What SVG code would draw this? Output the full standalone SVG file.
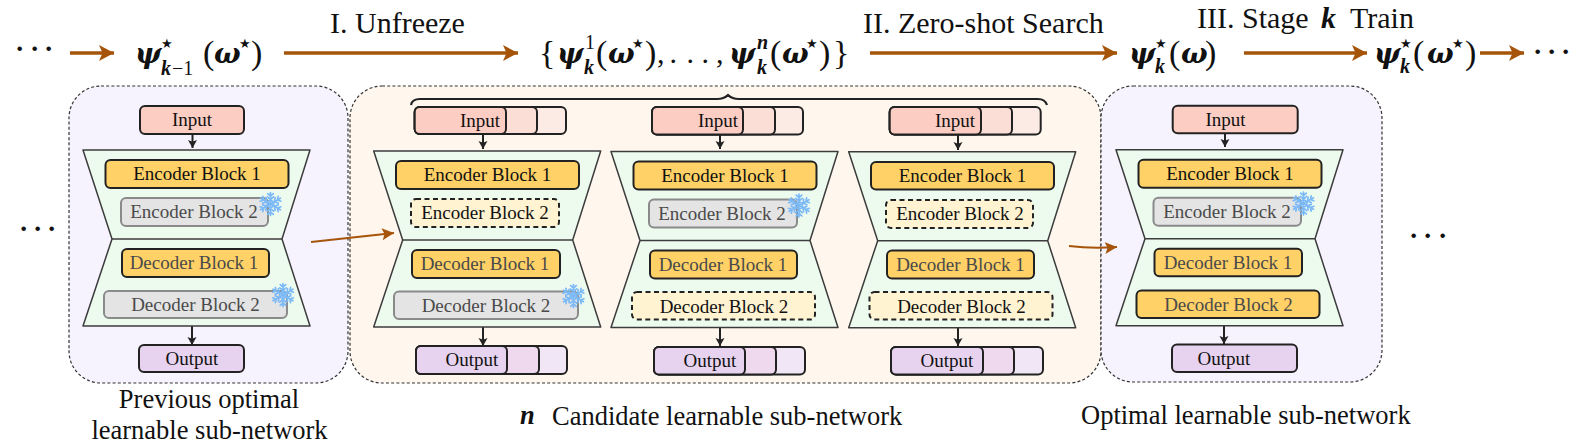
<svg xmlns="http://www.w3.org/2000/svg" width="1578" height="446" viewBox="0 0 1578 446">
<style>
text{font-family:"Liberation Serif","Times New Roman",serif;fill:#111}
.blk{font-size:19px;text-anchor:middle}
.dim{fill:#4a4a4a}
.cap{font-size:30px}
.lab{font-size:26.5px}
.m{font-family:"DejaVu Serif",serif;font-size:28px;font-weight:bold;font-style:italic}
.kb{font-size:30px;font-weight:bold;font-style:italic}
.r{font-size:34px}
.s{font-size:20px;font-weight:bold;font-style:italic}
.sr{font-size:20px}
.st{font-family:"DejaVu Sans",sans-serif;font-size:13px;fill:#111}
.dots{font-size:28px;font-weight:bold}
.panel{stroke:#333;stroke-width:1.2;stroke-dasharray:3 2.200}
.trap{fill:#edfbef;stroke:#3c3c3c;stroke-width:1.5;stroke-linejoin:round}
.box{stroke:#222;stroke-width:2}
.act{fill:#ffd166}
.frz{fill:#e4e4e4;stroke:#8a8a8a}
.cand{fill:#fff3d2;stroke-dasharray:5 3.5}
.in1{fill:#fccdc3}.in2{fill:#fbdfd6}.in3{fill:#fcebe4}
.ou1{fill:#e7d3ef}.ou2{fill:#efd9ef}.ou3{fill:#f1e6f5}
.flow{fill:none;stroke:#a65409;stroke-width:3.6;marker-end:url(#brown)}
.side{fill:none;stroke:#a65409;stroke-width:2;marker-end:url(#brownS)}
.link{fill:none;stroke:#222;stroke-width:2;marker-end:url(#black)}
.flk{stroke:#7bb9f7;stroke-width:1.7;fill:none;stroke-linecap:round}
</style>
<defs>
<marker id="brown" markerUnits="userSpaceOnUse" markerWidth="20" markerHeight="20" refX="15" refY="8" orient="auto"><path d="M0 0L15 8L0 16L3.5 8Z" fill="#a65409"/></marker>
<marker id="brownS" markerUnits="userSpaceOnUse" markerWidth="20" markerHeight="16" refX="12" refY="6" orient="auto"><path d="M0 0L12 6L0 12L2.5 6Z" fill="#a65409"/></marker>
<marker id="black" markerUnits="userSpaceOnUse" markerWidth="12" markerHeight="12" refX="8" refY="4.5" orient="auto"><path d="M0 0L8 4.5L0 9L1.8 4.5Z" fill="#222"/></marker>
<g id="arm"><path d="M0 0V-11.5M0 -4.5L-3.2 -7.2M0 -4.5L3.2 -7.2M0 -8L-2.8 -10.4M0 -8L2.8 -10.4"/></g>
<g id="flake" class="flk">
<use href="#arm"/><use href="#arm" transform="rotate(60)"/><use href="#arm" transform="rotate(120)"/><use href="#arm" transform="rotate(180)"/><use href="#arm" transform="rotate(240)"/><use href="#arm" transform="rotate(300)"/>
<circle r="3.4"/>
</g>
<path id="hour" d="M83 150H310L282 239L310 326H83L112 239Z"/>
</defs>

<!-- background panels -->
<g id="panel-previous"><rect class="panel" x="69" y="86" width="279" height="297" rx="32" fill="#f6f3ff"/></g>
<g id="panel-candidates"><rect class="panel" x="350" y="86" width="751" height="297" rx="32" fill="#fff6ee"/></g>
<g id="panel-optimal"><rect class="panel" x="1101" y="86" width="281" height="296" rx="32" fill="#f6f3ff"/></g>

<!-- top row -->
<g id="row-labels">
<text class="cap" x="330" y="33">I. Unfreeze</text>
<text class="cap" x="863" y="33">II. Zero-shot Search</text>
<text class="cap" x="1197" y="28">III. Stage</text>
<text class="kb" x="1321" y="28">k</text>
<text class="cap" x="1350" y="28">Train</text>
</g>
<g id="term-prev">
<text class="m" x="135" y="63">ψ</text><text class="st" x="161" y="48">★</text><text class="s" x="161" y="75">k</text><text class="sr" x="172" y="75">−1</text>
<text class="r" x="203" y="64">(</text><text class="m" x="214" y="63">ω</text><text class="st" x="239" y="48">★</text><text class="r" x="251" y="64">)</text>
</g>
<g id="term-set">
<text class="r" x="539" y="64">{</text>
<text class="m" x="557" y="63">ψ</text><text class="sr" x="585" y="49">1</text><text class="s" x="584" y="74">k</text>
<text class="r" x="596" y="64">(</text><text class="m" x="608" y="63">ω</text><text class="st" x="632" y="48">★</text><text class="r" x="645" y="64">)</text>
<text class="cap" x="657 669.500 686.500 701.500 716" y="63">,...,</text>
<text class="m" x="729" y="63">ψ</text><text class="s" x="757" y="49">n</text><text class="s" x="757" y="74">k</text>
<text class="r" x="770" y="64">(</text><text class="m" x="782" y="63">ω</text><text class="st" x="806" y="48">★</text><text class="r" x="819" y="64">)</text>
<text class="r" x="833" y="64">}</text>
</g>
<g id="term-current">
<text class="m" x="1129" y="63">ψ</text><text class="st" x="1155" y="48">★</text><text class="s" x="1155" y="73">k</text>
<text class="r" x="1169" y="64">(</text><text class="m" x="1181" y="63">ω</text><text class="r" x="1205" y="64">)</text>
</g>
<g id="term-next">
<text class="m" x="1374" y="63">ψ</text><text class="st" x="1400" y="48">★</text><text class="s" x="1400" y="73">k</text>
<text class="r" x="1413" y="64">(</text><text class="m" x="1427" y="63">ω</text><text class="st" x="1452" y="48">★</text><text class="r" x="1465" y="64">)</text>
</g>
<g id="ellipses">
<text class="dots" x="15 30 44" y="58">···</text>
<text class="dots" x="19 33 47" y="238">···</text>
<text class="dots" x="1409 1423 1438" y="244.500">···</text>
<text class="dots" x="1533 1547 1561" y="61">···</text>
</g>

<!-- connectors -->
<g id="connectors">
<path class="flow" d="M70 53H114"/>
<path class="flow" d="M284 53H518"/>
<path class="flow" d="M870 53H1117"/>
<path class="flow" d="M1244 53H1367"/>
<path class="flow" d="M1480 53H1524"/>
<path class="side" d="M311 242L394 233"/>
<path class="side" d="M1069 246Q1092 249 1117 247"/>
<path class="link" d="M192.500 134V148"/>
<path class="link" d="M192 326V345"/>
<path class="link" d="M483 134V149"/>
<path class="link" d="M483 327V346"/>
<path class="link" d="M720 135V149"/>
<path class="link" d="M720 328V346"/>
<path class="link" d="M958 135V150"/>
<path class="link" d="M958 328V346"/>
<path class="link" d="M1225 133V147"/>
<path class="link" d="M1224 326V344"/>
<path d="M411 105Q412 99 420 99H717Q724 99 728 95Q732 99 739 99H1038Q1045 99 1047 105" fill="none" stroke="#222" stroke-width="2.200"/>
</g>

<!-- previous optimal network -->
<g id="prev-net">
<use href="#hour" class="trap"/><path d="M112 239H282" stroke="#3c3c3c" stroke-width="1.500"/>
<g id="prev-input"><rect class="box in1" x="140" y="106" width="104" height="28" rx="5"/><text class="blk" x="192" y="126">Input</text></g>
<g id="prev-enc1"><rect class="box act" x="105.500" y="160" width="183" height="28" rx="5"/><text class="blk" x="197" y="180">Encoder Block 1</text></g>
<g id="prev-enc2"><rect class="box frz" x="121" y="198" width="147" height="28" rx="5"/><text class="blk dim" x="194" y="218">Encoder Block 2</text><use href="#flake" x="270.500" y="204"/></g>
<g id="prev-dec1"><rect class="box act" x="122" y="249" width="147" height="28" rx="5"/><text class="blk dim" x="194" y="269">Decoder Block 1</text></g>
<g id="prev-dec2"><rect class="box frz" x="104" y="291" width="183" height="27" rx="5"/><text class="blk dim" x="195.500" y="311">Decoder Block 2</text><use href="#flake" x="283" y="295"/></g>
<g id="prev-output"><rect class="box ou1" x="139" y="345" width="105" height="27" rx="5"/><text class="blk" x="192" y="365">Output</text></g>
</g>

<!-- candidate A -->
<g id="cand-a">
<use href="#hour" class="trap" x="290.700" y="1"/><path d="M402.700 240H572.700" stroke="#3c3c3c" stroke-width="1.500"/>
<g id="a-input"><rect class="box in3" x="414.700" y="107" width="151.300" height="27" rx="5"/><rect class="box in2" x="414.700" y="107" width="122.300" height="27" rx="5"/><rect class="box in1" x="414.700" y="107" width="91.300" height="27" rx="5"/><text class="blk" x="480" y="127">Input</text></g>
<g id="a-enc1"><rect class="box act" x="396" y="161" width="183" height="28" rx="5"/><text class="blk" x="487.500" y="181">Encoder Block 1</text></g>
<g id="a-enc2"><rect class="box cand" x="411" y="199" width="148" height="28" rx="5"/><text class="blk" x="485" y="219">Encoder Block 2</text></g>
<g id="a-dec1"><rect class="box act" x="412" y="250" width="148" height="28" rx="5"/><text class="blk dim" x="485" y="270">Decoder Block 1</text></g>
<g id="a-dec2"><rect class="box frz" x="394" y="291.500" width="184" height="27.500" rx="5"/><text class="blk dim" x="486" y="312">Decoder Block 2</text><use href="#flake" x="573.500" y="296"/></g>
<g id="a-output"><rect class="box ou3" x="416" y="346" width="151" height="28" rx="5"/><rect class="box ou2" x="416" y="346" width="123" height="28" rx="5"/><rect class="box ou1" x="416" y="346" width="91" height="28" rx="5"/><text class="blk" x="472" y="366">Output</text></g>
</g>

<!-- candidate B -->
<g id="cand-b">
<use href="#hour" class="trap" x="528" y="1.500"/><path d="M640 240.500H810" stroke="#3c3c3c" stroke-width="1.500"/>
<g id="b-input"><rect class="box in3" x="652" y="107" width="151" height="27.500" rx="5"/><rect class="box in2" x="652" y="107" width="123" height="27.500" rx="5"/><rect class="box in1" x="652" y="107" width="91" height="27.500" rx="5"/><text class="blk" x="718" y="127">Input</text></g>
<g id="b-enc1"><rect class="box act" x="633.500" y="161.500" width="183" height="28" rx="5"/><text class="blk" x="725" y="181.500">Encoder Block 1</text></g>
<g id="b-enc2"><rect class="box frz" x="649" y="199.500" width="148" height="28" rx="5"/><text class="blk dim" x="722" y="219.500">Encoder Block 2</text><use href="#flake" x="799" y="205.500"/></g>
<g id="b-dec1"><rect class="box act" x="650" y="250.500" width="147" height="28" rx="5"/><text class="blk dim" x="723" y="270.500">Decoder Block 1</text></g>
<g id="b-dec2"><rect class="box cand" x="632" y="292" width="183" height="27.500" rx="5"/><text class="blk" x="724" y="312.500">Decoder Block 2</text></g>
<g id="b-output"><rect class="box ou3" x="654" y="347" width="151" height="27.500" rx="5"/><rect class="box ou2" x="654" y="347" width="122" height="27.500" rx="5"/><rect class="box ou1" x="654" y="347" width="91" height="27.500" rx="5"/><text class="blk" x="710" y="367">Output</text></g>
</g>

<!-- candidate C -->
<g id="cand-c">
<use href="#hour" class="trap" x="765.700" y="1.700"/><path d="M877.700 240.700H1047.700" stroke="#3c3c3c" stroke-width="1.500"/>
<g id="c-input"><rect class="box in3" x="889.700" y="107" width="151" height="27.500" rx="5"/><rect class="box in2" x="889.700" y="107" width="122.300" height="27.500" rx="5"/><rect class="box in1" x="889.700" y="107" width="91.300" height="27.500" rx="5"/><text class="blk" x="955" y="127">Input</text></g>
<g id="c-enc1"><rect class="box act" x="871" y="162" width="183" height="27.500" rx="5"/><text class="blk" x="962.500" y="182">Encoder Block 1</text></g>
<g id="c-enc2"><rect class="box cand" x="886" y="200" width="147" height="28" rx="5"/><text class="blk" x="960" y="220">Encoder Block 2</text></g>
<g id="c-dec1"><rect class="box act" x="887" y="250.500" width="147" height="28" rx="5"/><text class="blk dim" x="960.500" y="270.500">Decoder Block 1</text></g>
<g id="c-dec2"><rect class="box cand" x="869.500" y="292" width="183" height="27.500" rx="5"/><text class="blk" x="961.500" y="312.500">Decoder Block 2</text></g>
<g id="c-output"><rect class="box ou3" x="891" y="347" width="152" height="27.500" rx="5"/><rect class="box ou2" x="891" y="347" width="123" height="27.500" rx="5"/><rect class="box ou1" x="891" y="347" width="92" height="27.500" rx="5"/><text class="blk" x="947" y="367">Output</text></g>
</g>

<!-- current optimal network -->
<g id="opt-net">
<use href="#hour" class="trap" x="1033" y="-0.300"/><path d="M1145 238.700H1315" stroke="#3c3c3c" stroke-width="1.500"/>
<g id="opt-input"><rect class="box in1" x="1172.700" y="105.700" width="125" height="27.500" rx="5"/><text class="blk" x="1225.500" y="125.500">Input</text></g>
<g id="opt-enc1"><rect class="box act" x="1138.500" y="159.700" width="183" height="28" rx="5"/><text class="blk" x="1230" y="179.700">Encoder Block 1</text></g>
<g id="opt-enc2"><rect class="box frz" x="1153.500" y="197.700" width="147.500" height="28" rx="5"/><text class="blk dim" x="1227" y="217.700">Encoder Block 2</text><use href="#flake" x="1303.500" y="203.500"/></g>
<g id="opt-dec1"><rect class="box act" x="1154.500" y="248.700" width="147.500" height="27.500" rx="5"/><text class="blk dim" x="1228" y="269">Decoder Block 1</text></g>
<g id="opt-dec2"><rect class="box act" x="1136.500" y="290.500" width="183" height="27.500" rx="5"/><text class="blk dim" x="1228.500" y="311">Decoder Block 2</text></g>
<g id="opt-output"><rect class="box ou1" x="1172" y="344.500" width="125" height="27.500" rx="5"/><text class="blk" x="1224" y="364.500">Output</text></g>
</g>

<!-- captions -->
<g id="captions">
<text class="lab" x="209" y="408" text-anchor="middle">Previous optimal</text>
<text class="lab" x="209.500" y="439" text-anchor="middle">learnable sub-network</text>
<text class="lab" x="520" y="424" font-weight="bold" font-style="italic">n</text>
<text class="lab" x="552" y="425">Candidate learnable sub-network</text>
<text class="lab" x="1081" y="424">Optimal learnable sub-network</text>
</g>
</svg>
